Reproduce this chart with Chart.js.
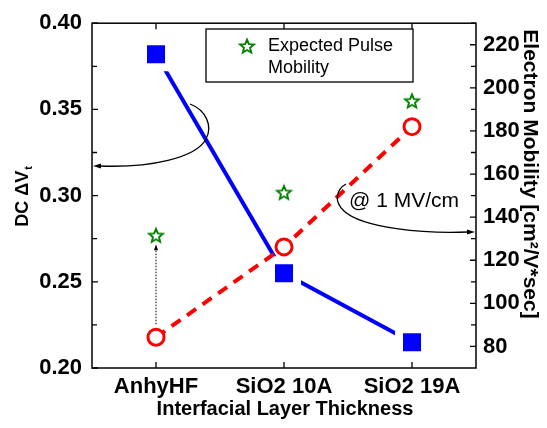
<!DOCTYPE html>
<html><head><meta charset="utf-8">
<script src="https://cdn.jsdelivr.net/npm/chart.js@4"></script>
<style>html,body{margin:0;padding:0;background:#fff}#wrap{width:547px;height:428px}</style>
</head><body><div id="wrap"><canvas id="c" width="547" height="428"></canvas></div>
<script>
const categories = ['AnhyHF', 'SiO2 10A', 'SiO2 19A'];
const dcDeltaVt = [0.382, 0.255, 0.215];
const electronMobility = [84.3, 126.2, 182];
const expectedPulseMobility = [131.6, 151.5, 194];
const leftTicks = [0.20, 0.25, 0.30, 0.35, 0.40];
const leftMinorTicks = [0.225, 0.275, 0.325, 0.375];
const rightTicks = [80, 100, 120, 140, 160, 180, 200, 220];
const rightMinorTicks = [90, 110, 130, 150, 170, 190, 210, 230];

const FONT = '"Liberation Sans", Arial, sans-serif';

function makeStar(size, color, lw) {
  const c = document.createElement('canvas');
  c.width = size; c.height = size;
  const g = c.getContext('2d');
  const cx = size / 2, cy = size / 2 + 0.8;
  const R = size / 2 - lw, r = R * 0.45;
  g.beginPath();
  for (let i = 0; i < 10; i++) {
    const a = -Math.PI / 2 + i * Math.PI / 5;
    const rr = i % 2 === 0 ? R : r;
    const px = cx + rr * Math.cos(a), py = cy + rr * Math.sin(a);
    if (i === 0) g.moveTo(px, py); else g.lineTo(px, py);
  }
  g.closePath();
  g.fillStyle = '#fff'; g.fill();
  g.lineWidth = lw; g.strokeStyle = color; g.lineJoin = 'miter'; g.stroke();
  return c;
}
const starImg = makeStar(18, '#008000', 1.9);

function arrowHead(ctx, x, y, ang, len, wid) {
  ctx.save();
  ctx.translate(x, y); ctx.rotate(ang);
  ctx.beginPath();
  ctx.moveTo(0, 0); ctx.lineTo(-len, -wid / 2); ctx.lineTo(-len, wid / 2); ctx.closePath();
  ctx.fillStyle = '#000'; ctx.fill();
  ctx.restore();
}

const decor = {
  id: 'decor',
  afterDraw(chart) {
    const ctx = chart.ctx, a = chart.chartArea;
    const xs = chart.scales.x, ys = chart.scales.y, y1 = chart.scales.y1;
    ctx.save();
    ctx.strokeStyle = '#000'; ctx.lineWidth = 1.5;
    ctx.strokeRect(a.left, a.top, a.right - a.left, a.bottom - a.top);
    ctx.lineWidth = 1.3;
    ctx.beginPath();
    leftTicks.forEach(v => { const y = ys.getPixelForValue(v); ctx.moveTo(a.left, y); ctx.lineTo(a.left + 6, y); });
    leftMinorTicks.forEach(v => { const y = ys.getPixelForValue(v); ctx.moveTo(a.left, y); ctx.lineTo(a.left + 5, y); });
    rightTicks.forEach(v => { const y = y1.getPixelForValue(v); ctx.moveTo(a.right, y); ctx.lineTo(a.right - 6, y); });
    rightMinorTicks.forEach(v => { const y = y1.getPixelForValue(v); ctx.moveTo(a.right, y); ctx.lineTo(a.right - 5, y); });
    categories.forEach((c, i) => {
      const x = xs.getPixelForValue(i);
      ctx.moveTo(x, a.bottom); ctx.lineTo(x, a.bottom - 6);
      ctx.moveTo(x, a.top); ctx.lineTo(x, a.top + 6);
    });
    ctx.stroke();

    // axis titles
    ctx.fillStyle = '#000';
    ctx.textBaseline = 'middle';
    ctx.textAlign = 'center';
    ctx.font = 'bold 20px ' + FONT;
    ctx.fillText('Interfacial Layer Thickness', 285, 409);

    // left title
    ctx.save();
    ctx.translate(22, 197); ctx.rotate(-Math.PI / 2);
    ctx.font = 'bold 18px ' + FONT;
    const main = 'DC \u0394V';
    const wm = ctx.measureText(main).width;
    ctx.font = 'bold 11px ' + FONT;
    const ws = ctx.measureText('t').width;
    const st = -(wm + ws) / 2;
    ctx.textAlign = 'left'; ctx.textBaseline = 'alphabetic';
    ctx.font = 'bold 18px ' + FONT;
    ctx.fillText(main, st, 6);
    ctx.font = 'bold 11px ' + FONT;
    ctx.fillText('t', st + wm + 1, 10);
    ctx.restore();

    // right title
    ctx.save();
    ctx.translate(530, 174); ctx.rotate(Math.PI / 2);
    ctx.font = 'bold 21px ' + FONT;
    ctx.textAlign = 'center'; ctx.textBaseline = 'middle';
    ctx.fillText('Electron Mobility [cm\u00B2/V*sec]', 0, 0);
    ctx.restore();

    // legend box
    ctx.fillStyle = '#fff';
    ctx.fillRect(206, 29, 207, 53);
    ctx.strokeStyle = '#000'; ctx.lineWidth = 1.3;
    ctx.strokeRect(206, 29, 207, 53);
    ctx.drawImage(starImg, 247 - starImg.width / 2, 46 - starImg.height / 2);
    ctx.fillStyle = '#000';
    ctx.font = '18px ' + FONT;
    ctx.textAlign = 'left'; ctx.textBaseline = 'middle';
    ctx.fillText('Expected Pulse', 268, 46);
    ctx.fillText('Mobility', 268, 68);

    // annotation text
    ctx.font = '21px ' + FONT;
    ctx.fillText('@ 1 MV/cm', 349, 201);

    // dotted arrow at AnhyHF
    const x0 = xs.getPixelForValue(0);
    const yFrom = y1.getPixelForValue(electronMobility[0]) - 13;
    const yTo = y1.getPixelForValue(expectedPulseMobility[0]) + 9;
    ctx.strokeStyle = '#000'; ctx.lineWidth = 1;
    ctx.setLineDash([1.5, 1.5]);
    ctx.beginPath(); ctx.moveTo(x0, yFrom); ctx.lineTo(x0, yTo + 5); ctx.stroke();
    ctx.setLineDash([]);
    arrowHead(ctx, x0, yTo, -Math.PI / 2, 6, 4);

    // curved arrows
    ctx.lineWidth = 1.3;
    ctx.beginPath();
    ctx.moveTo(190, 104);
    ctx.bezierCurveTo(206, 110, 213, 126, 206, 139);
    ctx.bezierCurveTo(196, 158, 150, 168, 100, 166);
    ctx.stroke();
    arrowHead(ctx, a.left + 1, 166, Math.PI, 8, 5);

    ctx.beginPath();
    ctx.moveTo(346, 184);
    ctx.bezierCurveTo(337, 189, 333, 201, 344, 211);
    ctx.bezierCurveTo(362, 228, 425, 234, 468, 232);
    ctx.stroke();
    arrowHead(ctx, a.right - 1, 232, 0, 8, 5);
    ctx.restore();
  }
};

new Chart(document.getElementById('c'), {
  type: 'line',
  data: {
    labels: categories,
    datasets: [
      {
        label: 'Electron Mobility',
        data: electronMobility,
        yAxisID: 'y1',
        borderColor: '#ff0000',
        borderWidth: 4,
        borderDash: [11, 8],
        pointStyle: 'circle',
        pointRadius: 8,
        pointBorderWidth: 3,
        pointBorderColor: '#ff0000',
        pointBackgroundColor: '#ffffff',
        tension: 0
      },
      {
        label: 'DC dVt',
        data: dcDeltaVt,
        yAxisID: 'y',
        borderColor: '#0000ff',
        borderWidth: 4,
        pointStyle: 'rect',
        pointRadius: 18.4,
        pointBorderWidth: 8,
        pointBorderColor: '#ffffff',
        pointBackgroundColor: '#0000ff',
        tension: 0
      },
      {
        label: 'Expected Pulse Mobility',
        data: expectedPulseMobility,
        yAxisID: 'y1',
        showLine: false,
        pointStyle: starImg,
        pointRadius: 9
      }
    ]
  },
  options: {
    responsive: false,
    animation: false,
    devicePixelRatio: 1,
    layout: { autoPadding: false, padding: { top: 19, left: 0, right: 0, bottom: 0 } },
    plugins: { legend: { display: false }, tooltip: { enabled: false } },
    scales: {
      x: {
        type: 'category',
        offset: true,
        grid: { display: false, drawTicks: false },
        border: { display: false },
        ticks: { color: '#000', font: { family: FONT, size: 22, weight: 'bold' }, padding: 6, maxRotation: 0, autoSkip: false },
        afterFit(s) { s.height = 60; }
      },
      y: {
        position: 'left',
        min: 0.2, max: 0.4,
        grid: { display: false, drawTicks: false },
        border: { display: false },
        afterBuildTicks(s) { s.ticks = leftTicks.map(v => ({ value: v })); },
        ticks: { color: '#000', font: { family: FONT, size: 22, weight: 'bold' }, padding: 10, callback: v => Number(v).toFixed(2) },
        afterFit(s) { s.width = 92; }
      },
      y1: {
        position: 'right',
        min: 70, max: 230,
        grid: { display: false, drawTicks: false },
        border: { display: false },
        afterBuildTicks(s) { s.ticks = rightTicks.map(v => ({ value: v })); },
        ticks: { color: '#000', font: { family: FONT, size: 22, weight: 'bold' }, padding: 7, callback: v => String(v) },
        afterFit(s) { s.width = 71; }
      }
    }
  },
  plugins: [decor]
});
</script>
</body></html>
